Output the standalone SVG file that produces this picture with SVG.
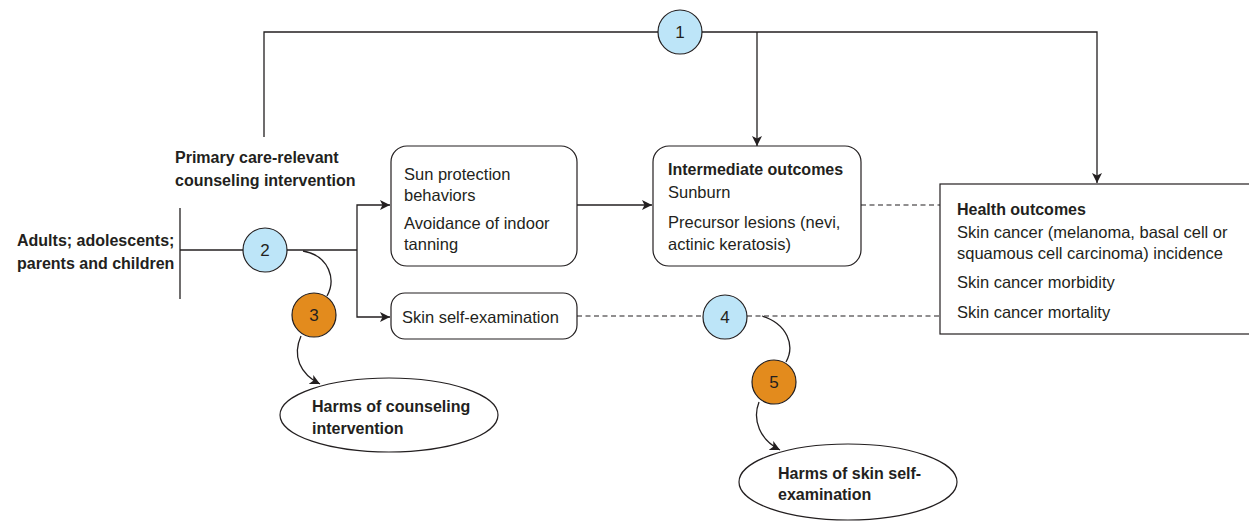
<svg xmlns="http://www.w3.org/2000/svg" width="1249" height="525" viewBox="0 0 1249 525">
<style>
text{font-family:"Liberation Sans",Arial,sans-serif;font-size:16.5px;fill:#231f20}
.b{font-weight:bold;font-size:16px}
.ln{fill:none;stroke:#231f20;stroke-width:1.3}
.dash{fill:none;stroke:#231f20;stroke-width:1.2;stroke-dasharray:5 3.5}
.box{fill:#fff;stroke:#231f20;stroke-width:1.2}
.kq1{fill:#bde5f8;stroke:#231f20;stroke-width:1.2}
.kq2{fill:#e38b1d;stroke:#231f20;stroke-width:1.2}
.num{font-size:17px;text-anchor:middle}
</style>
<defs>
<marker id="ah" viewBox="0 0 10 10" refX="10" refY="5" markerWidth="10" markerHeight="10" markerUnits="userSpaceOnUse" orient="auto">
<path d="M0,0 L10,5 L0,10 L2.5,5 Z" fill="#231f20"/>
</marker>
</defs>
<g id="connectors">
<polyline class="ln" points="264,137 264,32 1097,32 1097,183" marker-end="url(#ah)"/>
<line class="ln" x1="757" y1="32" x2="757" y2="146" marker-end="url(#ah)"/>
<line class="ln" x1="180" y1="208" x2="180" y2="299"/>
<line class="ln" x1="180" y1="250" x2="357" y2="250"/>
<polyline class="ln" points="357,250 357,205 390,205" marker-end="url(#ah)"/>
<polyline class="ln" points="357,250 357,317 390,317" marker-end="url(#ah)"/>
<line class="ln" x1="577" y1="205" x2="652" y2="205" marker-end="url(#ah)"/>
<line class="dash" x1="861" y1="205" x2="940" y2="205"/>
<line class="dash" x1="577" y1="316" x2="940" y2="316"/>
<path class="ln" d="M303,251 C330,256 336,280 327,296"/>
<path class="ln" d="M301,336 C292,356 300,374 320,384" marker-end="url(#ah)"/>
<path class="ln" d="M762,316 C788,324 795,346 786,362"/>
<path class="ln" d="M759,402 C752,420 760,440 780,450" marker-end="url(#ah)"/>
</g>
<g id="kq1"><circle class="kq1" cx="680" cy="32" r="22"/><text class="num" x="680" y="38">1</text></g>
<g id="population">
<text class="b" x="17" y="246">Adults; adolescents;</text>
<text class="b" x="17" y="269">parents and children</text>
</g>
<g id="intervention">
<text class="b" x="175" y="163">Primary care-relevant</text>
<text class="b" x="175" y="186">counseling intervention</text>
</g>
<g id="kq2"><circle class="kq1" cx="265" cy="250" r="22"/><text class="num" x="265" y="256">2</text></g>
<g id="kq3"><circle class="kq2" cx="314" cy="315" r="22"/><text class="num" x="314" y="321">3</text></g>
<g id="sun-protection">
<rect class="box" x="391" y="146" width="186" height="120" rx="16"/>
<text x="404" y="180">Sun protection</text>
<text x="404" y="201">behaviors</text>
<text x="404" y="229">Avoidance of indoor</text>
<text x="404" y="250">tanning</text>
</g>
<g id="intermediate">
<rect class="box" x="653" y="146" width="208" height="120" rx="16"/>
<text class="b" x="668" y="175">Intermediate outcomes</text>
<text x="668" y="198">Sunburn</text>
<text x="668" y="228">Precursor lesions (nevi,</text>
<text x="668" y="250">actinic keratosis)</text>
</g>
<g id="health">
<rect class="box" x="940" y="184" width="320" height="150"/>
<text class="b" x="957" y="215">Health outcomes</text>
<text x="957" y="238">Skin cancer (melanoma, basal cell or</text>
<text x="957" y="259">squamous cell carcinoma) incidence</text>
<text x="957" y="288">Skin cancer morbidity</text>
<text x="957" y="318">Skin cancer mortality</text>
</g>
<g id="self-exam">
<rect class="box" x="391" y="293" width="186" height="46" rx="14"/>
<text x="402" y="323">Skin self-examination</text>
</g>
<g id="kq4"><circle class="kq1" cx="725" cy="317" r="22"/><text class="num" x="725" y="323">4</text></g>
<g id="kq5"><circle class="kq2" cx="774" cy="382" r="22"/><text class="num" x="774" y="388">5</text></g>
<g id="harms-counseling">
<ellipse class="box" cx="389" cy="415" rx="109" ry="37"/>
<text class="b" x="312" y="412">Harms of counseling</text>
<text class="b" x="312" y="434">intervention</text>
</g>
<g id="harms-self-exam">
<ellipse class="box" cx="848" cy="482" rx="109" ry="38"/>
<text class="b" x="778" y="479">Harms of skin self-</text>
<text class="b" x="778" y="500">examination</text>
</g>
</svg>
